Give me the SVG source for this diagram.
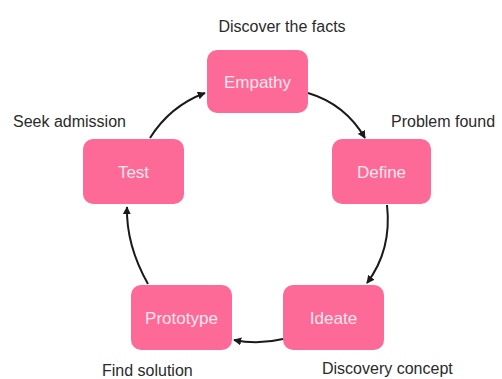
<svg xmlns="http://www.w3.org/2000/svg" width="502" height="379" viewBox="0 0 502 379">
  <style>
    .node rect { fill: #fe6a97; }
    .node text { font-family: "Liberation Sans", Arial, sans-serif; font-size: 17px; fill: #ffe6ee; text-anchor: middle; }
    .lbl { font-family: "Liberation Sans", Arial, sans-serif; font-size: 16px; fill: #2a2a2a; }
    .edge { fill: none; stroke: #1a1a1a; stroke-width: 2; marker-end: url(#arr); }
  </style>
  <defs>
    <marker id="arr" viewBox="0 0 10 10" refX="9" refY="5" markerWidth="4" markerHeight="4" orient="auto" markerUnits="strokeWidth">
      <path d="M0,0 L10,5 L0,10 z" fill="#1a1a1a"/>
    </marker>
  </defs>
  <rect width="502" height="379" fill="#ffffff"/>

  <g id="connectors">
    <path class="edge" d="M308,93 Q345,104 365,138"/>
    <path class="edge" d="M387,205 Q392,250 367,283"/>
    <path class="edge" d="M283,339 Q258,345 234,340"/>
    <path class="edge" d="M148,284 Q126,245 127,207"/>
    <path class="edge" d="M150,138 Q170,106 205,93"/>
  </g>

  <g id="empathy" class="node">
    <rect x="207" y="50" width="101" height="63" rx="10"/>
    <text x="257.5" y="88">Empathy</text>
  </g>
  <g id="define" class="node">
    <rect x="332" y="139" width="99" height="65" rx="10"/>
    <text x="381.5" y="178">Define</text>
  </g>
  <g id="ideate" class="node">
    <rect x="283" y="285" width="101" height="65" rx="10"/>
    <text x="333.5" y="324">Ideate</text>
  </g>
  <g id="prototype" class="node">
    <rect x="131" y="285" width="101" height="65" rx="10"/>
    <text x="181.5" y="324">Prototype</text>
  </g>
  <g id="test" class="node">
    <rect x="83" y="139" width="101" height="65" rx="10"/>
    <text x="133.5" y="178">Test</text>
  </g>

  <g id="labels">
    <text class="lbl" x="282" y="32" text-anchor="middle">Discover the facts</text>
    <text class="lbl" x="391" y="127">Problem found</text>
    <text class="lbl" x="13" y="127">Seek admission</text>
    <text class="lbl" x="102" y="376">Find solution</text>
    <text class="lbl" x="322" y="374">Discovery concept</text>
  </g>
</svg>
